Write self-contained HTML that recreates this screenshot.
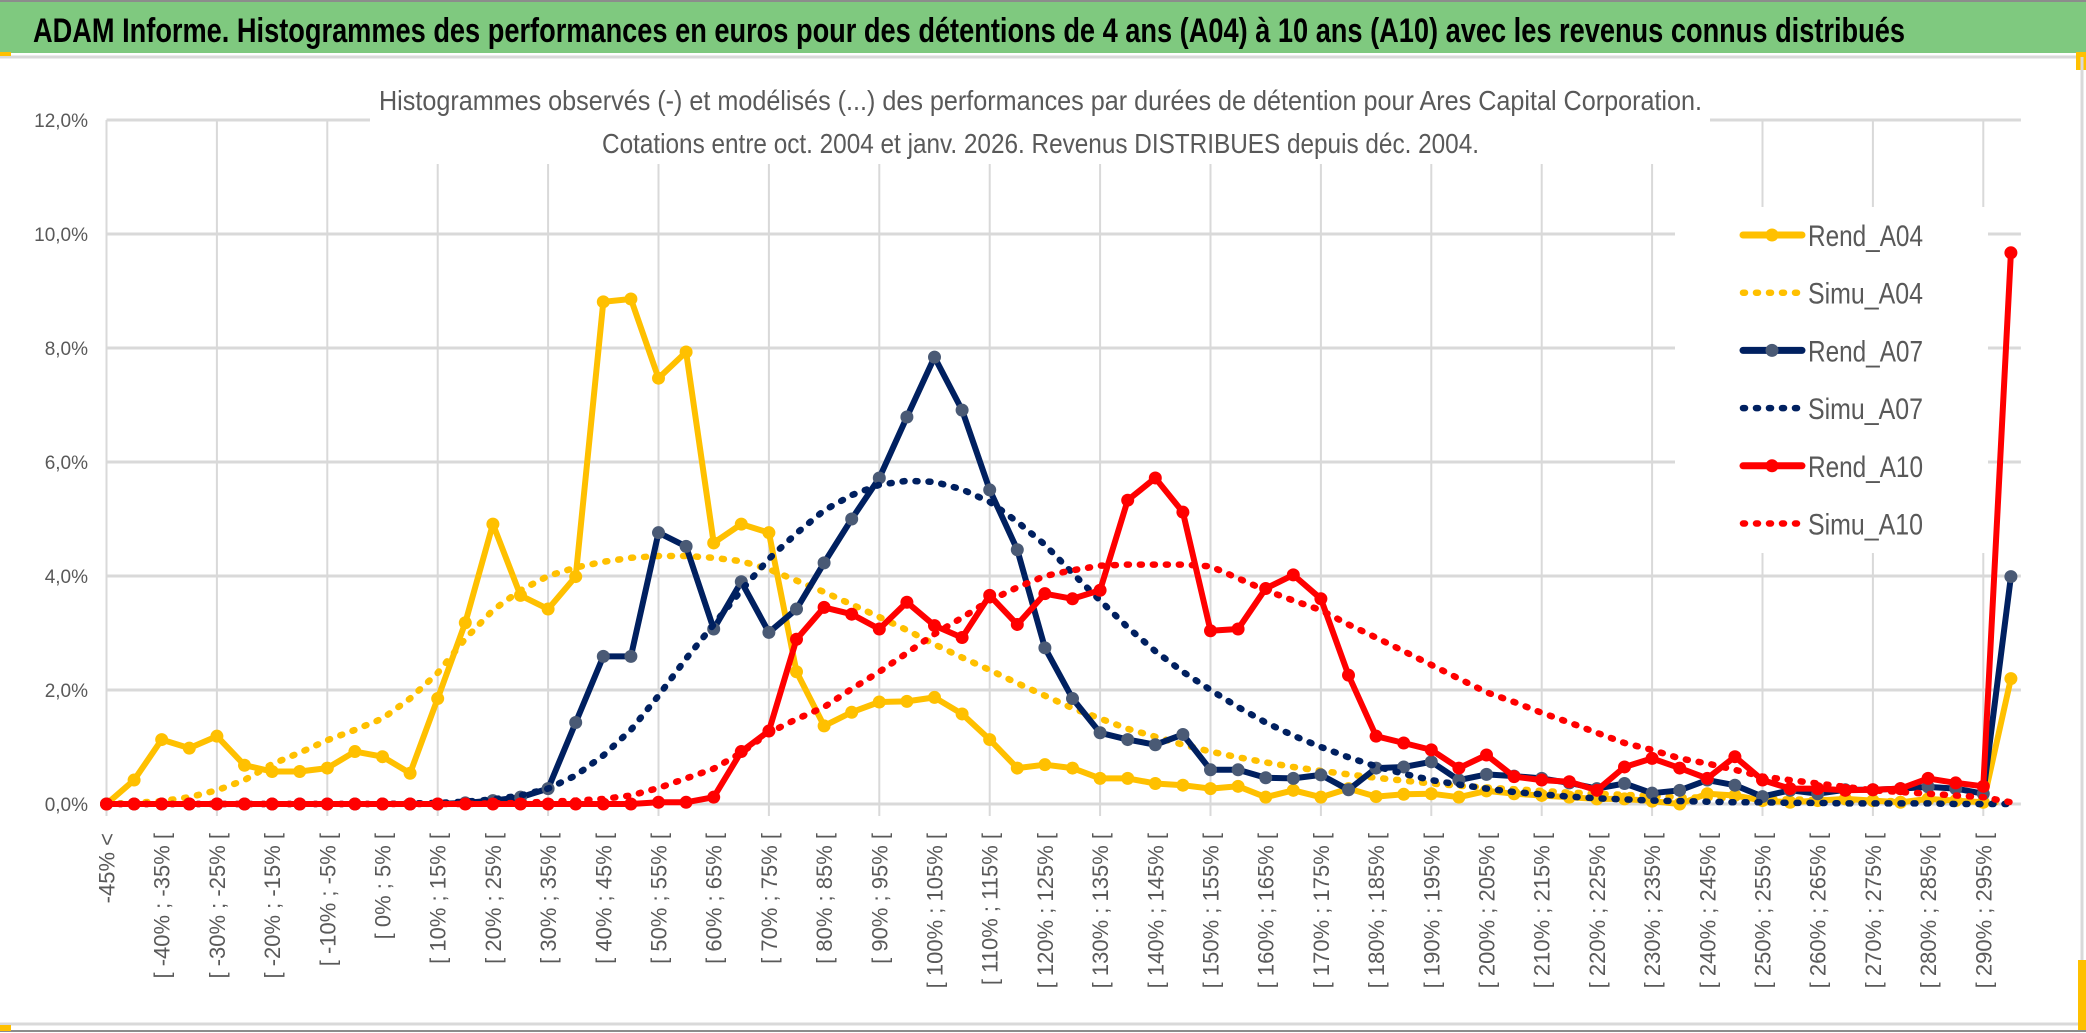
<!DOCTYPE html>
<html><head><meta charset="utf-8"><style>
html,body{margin:0;padding:0;background:#fff;}
svg{display:block;font-family:"Liberation Sans",sans-serif;}
</style></head><body>
<svg id="chart" width="2086" height="1033" viewBox="0 0 2086 1033" xmlns="http://www.w3.org/2000/svg">
<rect x="0" y="0" width="2086" height="1033" fill="#fff"/>
<rect x="0" y="2" width="2086" height="51" fill="#7FC97F"/>
<line x1="0" y1="1" x2="2086" y2="1" stroke="#8c8c8c" stroke-width="2"/>
<line x1="0" y1="57" x2="2086" y2="57" stroke="#d9d9d9" stroke-width="3"/>
<rect x="0" y="52" width="11" height="4" fill="#FFC000"/>
<rect x="2076" y="52" width="10" height="18" fill="#FFC000"/>
<line x1="2082" y1="57" x2="2082" y2="1025" stroke="#d9d9d9" stroke-width="3"/>
<line x1="0" y1="1024" x2="2086" y2="1024" stroke="#d9d9d9" stroke-width="3"/>
<line x1="0" y1="1031" x2="2086" y2="1031" stroke="#8c8c8c" stroke-width="2"/>
<rect x="0" y="1025" width="11" height="6" fill="#FFC000"/>
<rect x="2078" y="960" width="8" height="70" fill="#FFC000"/>
<text x="33" y="42" font-size="34" font-weight="bold" fill="#000" textLength="1872" lengthAdjust="spacingAndGlyphs">ADAM Informe. Histogrammes des performances en euros pour des détentions de 4 ans (A04) à 10 ans (A10) avec les revenus connus distribués</text>
<g id="grid"></g>
<rect x="370" y="75" width="1340" height="89" fill="#fff"/>
<rect x="1675" y="207" width="313" height="346" fill="#fff"/>
<text x="379" y="110" font-size="28" fill="#595959" textLength="1323" lengthAdjust="spacingAndGlyphs">Histogrammes observés (-) et modélisés (...) des performances par durées de détention pour Ares Capital Corporation.</text>
<text x="602" y="153" font-size="28" fill="#595959" textLength="877" lengthAdjust="spacingAndGlyphs">Cotations entre oct. 2004 et janv. 2026. Revenus DISTRIBUES depuis déc. 2004.</text>
<g id="yticks"></g>
<g id="xticks"></g>
<g id="series"></g>
<g id="legend"></g>
</svg>
<script>
const categories = ["-45% <"];
for (let k = 1; k < 70; k++) { const a = (k - 10) * 5; categories.push("[ " + a + "% ; " + (a + 5) + "% ["); }
const yTicks = [0, 2, 4, 6, 8, 10, 12];
const yTickLabels = ["0,0%", "2,0%", "4,0%", "6,0%", "8,0%", "10,0%", "12,0%"];
const seriesNames = ["Rend_A04", "Simu_A04", "Rend_A07", "Simu_A07", "Rend_A10", "Simu_A10"];
const rendA04 = [0.0,0.42,1.13,0.98,1.19,0.68,0.57,0.57,0.63,0.92,0.83,0.54,1.85,3.18,4.91,3.66,3.42,3.99,8.81,8.86,7.47,7.93,4.58,4.91,4.76,2.32,1.37,1.61,1.79,1.80,1.87,1.58,1.13,0.63,0.69,0.63,0.45,0.45,0.36,0.33,0.27,0.31,0.12,0.24,0.12,0.27,0.13,0.17,0.18,0.12,0.23,0.18,0.15,0.12,0.09,0.09,0.05,0.0,0.18,0.15,0.06,0.03,0.06,0.09,0.06,0.03,0.09,0.06,0.03,2.20];
const simuA04 = [0.00,0.02,0.05,0.12,0.24,0.42,0.7,0.9,1.12,1.3,1.5,1.85,2.3,2.9,3.4,3.75,4.0,4.15,4.25,4.32,4.35,4.35,4.32,4.26,4.12,3.92,3.72,3.5,3.28,3.05,2.8,2.57,2.35,2.12,1.9,1.68,1.5,1.32,1.18,1.04,0.92,0.82,0.73,0.65,0.58,0.52,0.46,0.41,0.36,0.32,0.29,0.26,0.23,0.2,0.18,0.16,0.14,0.12,0.11,0.1,0.09,0.08,0.07,0.06,0.05,0.05,0.04,0.04,0.03,0.03];
const rendA07 = [0,0,0,0,0,0,0,0,0,0,0,0,0,0.02,0.06,0.12,0.27,1.43,2.59,2.59,4.76,4.52,3.07,3.9,3.01,3.42,4.23,5.0,5.72,6.79,7.84,6.91,5.51,4.46,2.74,1.85,1.25,1.13,1.04,1.22,0.6,0.6,0.46,0.45,0.51,0.25,0.63,0.65,0.74,0.42,0.52,0.49,0.45,0.37,0.27,0.36,0.19,0.24,0.42,0.33,0.13,0.24,0.18,0.25,0.25,0.27,0.30,0.27,0.18,3.99];
const simuA07 = [0,0,0,0,0,0,0,0,0,0,0,0.01,0.02,0.04,0.08,0.15,0.27,0.5,0.85,1.3,1.9,2.55,3.15,3.75,4.3,4.75,5.15,5.42,5.6,5.67,5.65,5.52,5.3,4.95,4.55,4.05,3.57,3.1,2.68,2.32,2.0,1.7,1.43,1.2,1.0,0.82,0.66,0.53,0.42,0.34,0.27,0.21,0.17,0.13,0.1,0.08,0.06,0.05,0.04,0.03,0.03,0.02,0.02,0.01,0.01,0.01,0.01,0,0,0];
const rendA10 = [0,0,0,0,0,0,0,0,0,0,0,0,0,0,0,0,0,0,0,0,0.03,0.03,0.12,0.92,1.28,2.89,3.45,3.33,3.07,3.54,3.13,2.92,3.66,3.15,3.69,3.6,3.75,5.33,5.72,5.12,3.04,3.07,3.78,4.02,3.6,2.26,1.19,1.07,0.95,0.63,0.86,0.48,0.42,0.39,0.24,0.65,0.8,0.63,0.45,0.83,0.42,0.27,0.27,0.24,0.25,0.27,0.45,0.37,0.31,9.67];
const simuA10 = [0,0,0,0,0,0,0,0,0,0,0,0,0,0,0.01,0.02,0.04,0.06,0.09,0.15,0.28,0.45,0.62,0.9,1.25,1.49,1.7,2.02,2.32,2.65,2.98,3.27,3.57,3.8,4.0,4.1,4.18,4.2,4.2,4.2,4.17,3.96,3.75,3.57,3.4,3.15,2.92,2.68,2.44,2.2,1.96,1.79,1.6,1.43,1.25,1.07,0.95,0.8,0.71,0.6,0.48,0.42,0.36,0.3,0.24,0.21,0.18,0.15,0.12,0.03];

const NS = "http://www.w3.org/2000/svg";
const X0 = 106.5, DX = 27.6, Y0 = 804, PY = 57;
function xs(i) { return X0 + DX * i; }
function ys(v) { return Y0 - PY * v; }
function mk(tag, attrs, parent) { const e = document.createElementNS(NS, tag); for (const k in attrs) e.setAttribute(k, attrs[k]); parent.appendChild(e); return e; }

const grid = document.getElementById("grid");
for (let i = 0; i < categories.length; i += 4) {
  const l = mk("line", {x1: xs(i), x2: xs(i), y1: ys(12), y2: Y0 + 12, stroke: "#d9d9d9", "stroke-width": 2}, grid);
  
  
}
const yt = document.getElementById("yticks");
yTicks.forEach((v, j) => {
  const l = mk("line", {x1: X0, x2: xs(69) + 10, y1: ys(v), y2: ys(v), stroke: "#d9d9d9", "stroke-width": 3}, grid);
  
  
  const t = mk("text", {x: 88, y: ys(v) + 7, "font-size": 19, fill: "#595959", "text-anchor": "end"}, yt);
  t.textContent = yTickLabels[j];
  
  
});
const xt = document.getElementById("xticks");
for (let i = 0; i < categories.length; i += 2) {
  const x = xs(i) + 8, y = 833;
  const t = mk("text", {x: x, y: y, "font-size": 22, fill: "#595959", "text-anchor": "end", transform: "rotate(-90 " + x + " " + y + ")"}, xt);
  t.textContent = categories[i];
  
  
}

const sg = document.getElementById("series");
function drawSeries(vals, color, dotted, markerColor, name) {
  const g = mk("g", {}, sg);
  
  
  const pts = vals.map((v, i) => xs(i).toFixed(1) + "," + ys(v).toFixed(1)).join(" ");
  const pl = mk("polyline", {points: pts, fill: "none", stroke: color, "stroke-width": dotted ? 6.5 : 6, "stroke-linejoin": "round", "stroke-linecap": "round"}, g);
  if (dotted) { pl.setAttribute("stroke-dasharray", "2 11"); }
  
  
  if (!dotted) {
    vals.forEach((v, i) => {
      const c = mk("circle", {cx: xs(i), cy: ys(v), r: 6.5, fill: markerColor}, g);
      
      
    });
  }
}
drawSeries(rendA04, "#FFC000", false, "#FFC000", "rend-a04-series");
drawSeries(simuA04, "#FFC000", true, null, "simu-a04-series");
drawSeries(rendA07, "#002060", false, "#4a5a75", "rend-a07-series");
drawSeries(simuA07, "#002060", true, null, "simu-a07-series");
drawSeries(rendA10, "#FF0000", false, "#FF0000", "rend-a10-series");
drawSeries(simuA10, "#FF0000", true, null, "simu-a10-series");

const lg = document.getElementById("legend");
const legColors = ["#FFC000", "#FFC000", "#002060", "#002060", "#FF0000", "#FF0000"];
const legMarker = ["#FFC000", null, "#4a5a75", null, "#FF0000", null];
seriesNames.forEach((n, k) => {
  const cy = 235 + 57.7 * k;
  const g = mk("g", {}, lg);
  
  
  const l = mk("line", {x1: 1743, x2: 1802, y1: cy, y2: cy, stroke: legColors[k], "stroke-width": k % 2 ? 6.5 : 7, "stroke-linecap": "round"}, g);
  if (k % 2) l.setAttribute("stroke-dasharray", "2 11");
  if (legMarker[k]) mk("circle", {cx: 1772, cy: cy, r: 6.5, fill: legMarker[k]}, g);
  const t = mk("text", {x: 1808, y: cy + 11, "font-size": 30, fill: "#595959", textLength: 115, lengthAdjust: "spacingAndGlyphs"}, g);
  t.textContent = n;
  
  
});
</script>
</body></html>
